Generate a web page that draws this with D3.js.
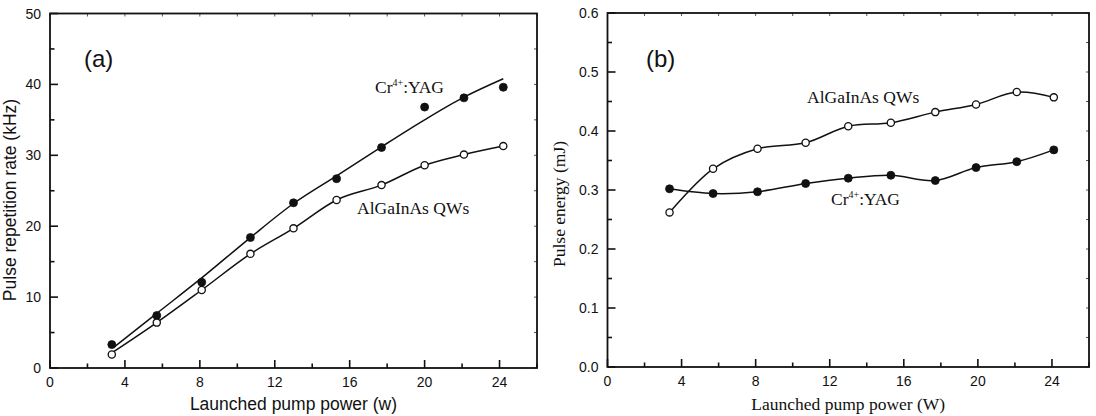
<!DOCTYPE html>
<html><head><meta charset="utf-8">
<script src="https://cdn.jsdelivr.net/npm/d3@7"></script>
<style>body{margin:0;background:#fff}svg{display:block}</style>
</head><body>
<svg id="c" width="1096" height="416"></svg>
<script>
// ---- data ----
const xTicks = [0, 4, 8, 12, 16, 20, 24];
const yTicksA = [0, 10, 20, 30, 40, 50];
const yTicksB = [0.0, 0.1, 0.2, 0.3, 0.4, 0.5, 0.6];

// panel (a)
const powerA   = [3.3, 5.7, 8.1, 10.7, 13.0, 15.3, 17.7, 20.0, 22.1, 24.2];
const repCr    = [3.3, 7.4, 12.1, 18.4, 23.3, 26.7, 31.1, 36.8, 38.1, 39.6];
const repQW    = [1.9, 6.4, 11.0, 16.1, 19.7, 23.7, 25.8, 28.6, 30.1, 31.3];
const fitPowerA = [3.4, 5.7, 8.1, 10.7, 13.0, 15.3, 17.7, 20.0, 22.1, 24.2];
const repCrFit  = [2.9, 7.7, 12.7, 18.4, 23.2, 27.1, 31.2, 35.0, 38.2, 40.8];
const repQWFit  = [2.3, 6.4, 11.0, 16.1, 19.7, 23.7, 25.8, 28.6, 30.1, 31.3];

// panel (b)
const powerB   = [3.35, 5.7, 8.1, 10.7, 13.0, 15.3, 17.7, 19.9, 22.1, 24.1];
const energyQW = [0.262, 0.336, 0.370, 0.380, 0.408, 0.414, 0.432, 0.445, 0.466, 0.457];
const energyCr = [0.302, 0.294, 0.297, 0.311, 0.320, 0.325, 0.316, 0.338, 0.348, 0.368];

const svg = d3.select("#c");
const sans = "'Liberation Sans', Arial, Helvetica, sans-serif";
const serif = "'Liberation Serif', 'Times New Roman', serif";

function panel(o) {
  const x = d3.scaleLinear().domain([0, 26]).range([o.x0, o.x1]);
  const y = d3.scaleLinear().domain(o.yDomain).range([o.yBot, o.yTop]);
  const g = svg.append("g");

  // bottom axis: inward ticks
  const bx = d3.axisBottom(x).tickValues(d3.range(0, 27, 2)).tickSize(0).tickFormat(() => "");
  g.append("g").attr("transform", `translate(0,${o.yBot})`).call(bx).call(a => a.select(".domain").remove());
  d3.range(0, 27, 2).forEach(v => {
    const major = v % 4 === 0;
    g.append("line").attr("x1", x(v)).attr("x2", x(v))
      .attr("y1", o.yBot).attr("y2", o.yBot - (major ? 8 : 4.5))
      .attr("stroke", "#111").attr("stroke-width", 1.6);
    g.append("line").attr("x1", x(v)).attr("x2", x(v))
      .attr("y1", o.yTop).attr("y2", o.yTop + 3)
      .attr("stroke", "#555").attr("stroke-width", 1);
  });
  xTicks.forEach(v => {
    g.append("text").attr("x", x(v)).attr("y", o.yBot + 19)
      .attr("text-anchor", "middle").attr("font-family", sans).attr("font-size", 14)
      .attr("fill", "#111").text(v);
  });

  // left axis: inward ticks
  const yMinor = d3.range(0, o.ticks.length * 2 - 1).map(i => o.yDomain[0] + i * o.step / 2);
  yMinor.forEach((v, i) => {
    const major = i % 2 === 0;
    g.append("line").attr("x1", o.x0).attr("x2", o.x0 + (major ? 8 : 4.5))
      .attr("y1", y(v)).attr("y2", y(v)).attr("stroke", "#111").attr("stroke-width", 1.6);
    g.append("line").attr("x1", o.x1).attr("x2", o.x1 - 3)
      .attr("y1", y(v)).attr("y2", y(v)).attr("stroke", "#555").attr("stroke-width", 1);
  });
  o.ticks.forEach(v => {
    g.append("text").attr("x", o.x0 - 9).attr("y", y(v) + 5)
      .attr("text-anchor", "end").attr("font-family", sans).attr("font-size", 14)
      .attr("fill", "#111").text(o.fmt(v));
  });

  // frame
  g.append("rect").attr("x", o.x0).attr("y", o.yTop)
    .attr("width", o.x1 - o.x0).attr("height", o.yBot - o.yTop)
    .attr("fill", "none").attr("stroke", "#111").attr("stroke-width", 1.8);

  // axis titles
  g.append("text").attr("x", (o.x0 + o.x1) / 2).attr("y", 410)
    .attr("text-anchor", "middle").attr("font-family", o.titleFont).attr("font-size", o.titleSize)
    .attr("fill", "#111").text(o.xTitle);
  g.append("text").attr("transform", `translate(${o.yTitleX},${o.yTitleY}) rotate(-90)`)
    .attr("text-anchor", "middle").attr("font-family", o.titleFont).attr("font-size", o.titleSize)
    .attr("fill", "#111").text(o.yTitle);

  // panel letter
  g.append("text").attr("x", o.letterX).attr("y", 67)
    .attr("font-family", sans).attr("font-size", 24).attr("fill", "#111").text(o.letter);

  return { g, x, y };
}

function drawLine(p, xs, ys, curve) {
  const line = d3.line().x(d => p.x(d[0])).y(d => p.y(d[1])).curve(curve);
  p.g.append("path").datum(xs.map((v, i) => [v, ys[i]]))
    .attr("d", line).attr("fill", "none").attr("stroke", "#111").attr("stroke-width", 1.5);
}
function drawPts(p, xs, ys, filled) {
  p.g.selectAll(null).data(xs.map((v, i) => [v, ys[i]])).enter().append("circle")
    .attr("cx", d => p.x(d[0])).attr("cy", d => p.y(d[1])).attr("r", filled ? 4 : 3.6)
    .attr("fill", filled ? "#111" : "#fff").attr("stroke", "#111").attr("stroke-width", filled ? 0.8 : 1.3);
}
function label(p, xPix, yPix, parts) {
  const t = p.g.append("text").attr("x", xPix).attr("y", yPix)
    .attr("font-family", serif).attr("font-size", 17.5).attr("fill", "#111");
  parts.forEach(s => {
    if (s.sup) t.append("tspan").attr("dy", -7).attr("font-size", 10).text(s.t);
    else if (s.after) t.append("tspan").attr("dy", 7).text(s.t);
    else t.append("tspan").text(s.t);
  });
}

// ---- panel (a) ----
const A = panel({
  x0: 50, x1: 537, yTop: 13.5, yBot: 368, yDomain: [0, 50], step: 10, ticks: yTicksA,
  fmt: d => d, titleFont: sans, titleSize: 17.5,
  xTitle: "Launched pump power (w)", yTitle: "Pulse repetition rate (kHz)",
  yTitleX: 16, yTitleY: 200, letter: "(a)", letterX: 84
});
drawLine(A, fitPowerA, repCrFit, d3.curveMonotoneX);
drawLine(A, fitPowerA, repQWFit, d3.curveMonotoneX);
drawPts(A, powerA, repCr, true);
drawPts(A, powerA, repQW, false);
label(A, 375, 93, [{t: "Cr"}, {t: "4+", sup: true}, {t: ":YAG", after: true}]);
label(A, 357, 214, [{t: "AlGaInAs QWs"}]);

// ---- panel (b) ----
const B = panel({
  x0: 607.5, x1: 1089, yTop: 13, yBot: 367, yDomain: [0, 0.6], step: 0.1, ticks: yTicksB,
  fmt: d3.format(".1f"), titleFont: serif, titleSize: 17.5,
  xTitle: "Launched pump power (W)", yTitle: "Pulse energy (mJ)",
  yTitleX: 565, yTitleY: 204, letter: "(b)", letterX: 646
});
drawLine(B, powerB, energyQW, d3.curveCatmullRom);
drawLine(B, powerB, energyCr, d3.curveCatmullRom);
drawPts(B, powerB, energyQW, false);
drawPts(B, powerB, energyCr, true);
label(B, 807, 103, [{t: "AlGaInAs QWs"}]);
label(B, 831, 205, [{t: "Cr"}, {t: "4+", sup: true}, {t: ":YAG", after: true}]);
</script>
</body></html>
